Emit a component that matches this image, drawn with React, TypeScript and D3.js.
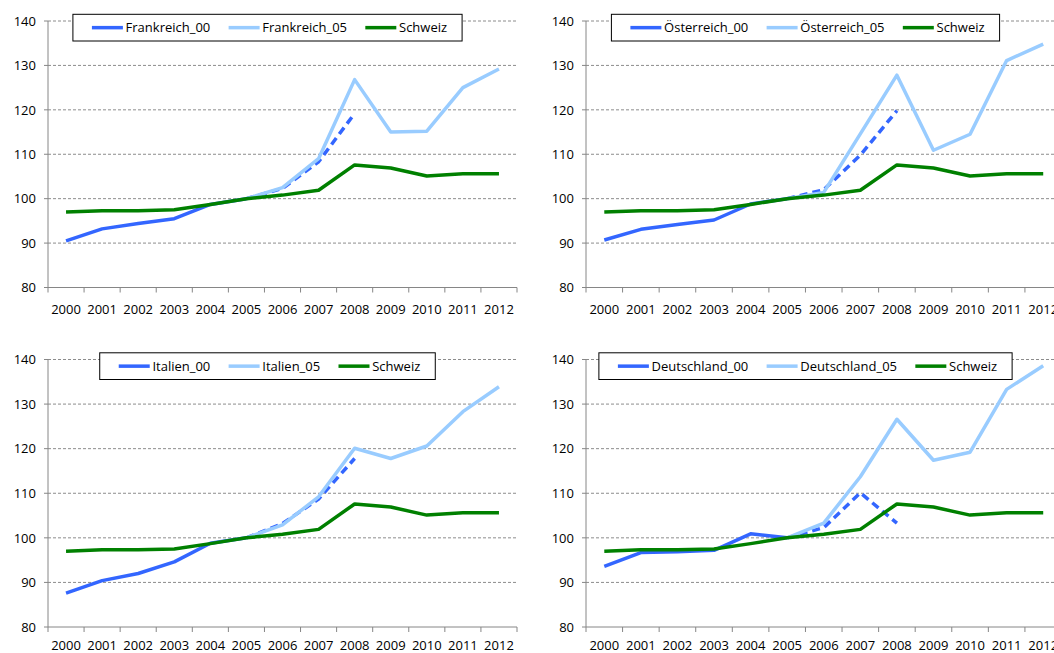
import React from 'react';
import * as d3 from 'd3';

const years = ['2000', '2001', '2002', '2003', '2004', '2005', '2006', '2007', '2008', '2009', '2010', '2011', '2012'];
const yTicks = [80, 90, 100, 110, 120, 130, 140];

const schweiz = [97.0, 97.3, 97.3, 97.5, 98.7, 100.0, 100.8, 101.9, 107.6, 106.9, 105.1, 105.6, 105.6];

const frankreich00 = [90.5, 93.2, 94.4, 95.5, 98.7, 100.0, 102.3, 108.3, 119.2];
const frankreich05 = [null, null, null, null, null, 100.0, 102.5, 109.0, 126.8, 115.0, 115.2, 125.0, 129.2];

const oesterreich00 = [90.7, 93.1, 94.2, 95.2, 98.8, 100.0, 102.0, 109.8, 119.8];
const oesterreich05 = [null, null, null, null, null, 100.0, 101.4, 114.6, 127.8, 110.9, 114.5, 131.1, 134.8];

const italien00 = [87.6, 90.4, 92.0, 94.6, 98.8, 100.0, 103.2, 108.7, 117.8];
const italien05 = [null, null, null, null, null, 100.0, 102.9, 109.2, 120.1, 117.8, 120.6, 128.3, 133.9];

const deutschland00 = [93.6, 96.7, 96.9, 97.2, 100.9, 100.0, 102.3, 110.1, 103.3];
const deutschland05 = [null, null, null, null, null, 100.0, 103.3, 113.7, 126.6, 117.4, 119.2, 133.3, 138.6];

// index from which the _00 series is a projection (dashed)
const projectedFrom = 5;

const panels = [
  { n00: 'Frankreich_00', n05: 'Frankreich_05', v00: frankreich00, v05: frankreich05, col: 0, row: 0 },
  { n00: 'Österreich_00', n05: 'Österreich_05', v00: oesterreich00, v05: oesterreich05, col: 1, row: 0 },
  { n00: 'Italien_00', n05: 'Italien_05', v00: italien00, v05: italien05, col: 0, row: 1 },
  { n00: 'Deutschland_00', n05: 'Deutschland_05', v00: deutschland00, v05: deutschland05, col: 1, row: 1 },
];

const C_DARK = '#3366FF';
const C_LIGHT = '#99CCFF';
const C_GREEN = '#008000';
const FONT = "'Open Sans', 'Noto Sans', sans-serif";
const FS = 13;
const TXT = '#000';

let ctx: CanvasRenderingContext2D | null = null;
function measure(t: string): number {
  if (typeof document === 'undefined') return t.length * 7;
  if (!ctx) ctx = document.createElement('canvas').getContext('2d');
  if (!ctx) return t.length * 7;
  ctx.font = `${FS}px 'Open Sans'`;
  return ctx.measureText(t).width;
}

type Series = (number | null)[];

function Panel({ p }: { p: typeof panels[number] }) {
  const x0 = p.col === 0 ? 48 : 586;
  const x1 = p.col === 0 ? 517 : 1061.5;
  const yTop = p.row === 0 ? 21 : 359.5;
  const yBot = p.row === 0 ? 287.5 : 627;
  const labelOff = p.row === 0 ? 26 : 22.5;

  const x = d3.scaleBand<string>().domain(years).range([x0, x1]);
  const bw = x.bandwidth();
  const cx = (i: number) => (x(years[i]) as number) + bw / 2;
  const y = d3.scaleLinear().domain([80, 140]).range([yBot, yTop]);

  const line = d3
    .line<number | null>()
    .defined((d) => d != null)
    .x((_, i) => cx(i))
    .y((d) => y(d as number));

  const v00solid: Series = p.v00.map((v, i) => (i <= projectedFrom ? v : null));
  const v00dash: Series = years.map((_, i) => (i >= projectedFrom && i < p.v00.length ? p.v00[i] : null));

  // legend layout
  const lineLen = 31;
  const textGap = 2.7;
  const colGap = 18.3;
  const padL = 19;
  const padR = 15;
  const names = [p.n00, p.n05, 'Schweiz'];
  const colors = [C_DARK, C_LIGHT, C_GREEN];
  const widths = names.map(measure);
  const colW = lineLen + textGap + Math.max(widths[0], widths[1]) + colGap;
  const boxW = padL + 2 * colW + lineLen + textGap + widths[2] + padR;
  const center = x0 + 219.5;
  const boxX = center - boxW / 2;
  const boxY = yTop - 6.7;
  const boxH = 26.7;
  const legY = boxY + boxH / 2;

  return (
    <g>
      {yTicks.filter((t) => t !== 80).map((t) => (
        <line key={t} x1={x0} x2={x1} y1={y(t)} y2={y(t)} stroke="#8c8c8c" strokeWidth={1} strokeDasharray="3,2" />
      ))}
      <line x1={x0} x2={x0} y1={yTop} y2={yBot} stroke="#868686" strokeWidth={1} />
      {yTicks.map((t) => (
        <g key={t}>
          <line x1={x0 - 4} x2={x0} y1={y(t)} y2={y(t)} stroke="#868686" />
          <text x={x0 - 12} y={y(t)} dy="0.36em" textAnchor="end" fontSize={FS} fontFamily={FONT} fill={TXT}>
            {t}
          </text>
        </g>
      ))}
      <line x1={x0} x2={x1} y1={yBot} y2={yBot} stroke="#868686" strokeWidth={1} />
      {years.map((yr, i) => (
        <g key={yr}>
          <line x1={x(yr) as number} x2={x(yr) as number} y1={yBot} y2={yBot + 5} stroke="#868686" />
          <text x={cx(i)} y={yBot + labelOff} textAnchor="middle" fontSize={FS} fontFamily={FONT} fill={TXT}>
            {yr}
          </text>
        </g>
      ))}
      <line x1={x1} x2={x1} y1={yBot} y2={yBot + 5} stroke="#868686" />

      <path d={line(v00solid) || ''} fill="none" stroke={C_DARK} strokeWidth={3.5} strokeLinejoin="round" />
      <path d={line(v00dash) || ''} fill="none" stroke={C_DARK} strokeWidth={3.5} strokeDasharray="8,5" strokeLinejoin="round" />
      <path d={line(p.v05) || ''} fill="none" stroke={C_LIGHT} strokeWidth={3.5} strokeLinejoin="round" />
      <path d={line(schweiz) || ''} fill="none" stroke={C_GREEN} strokeWidth={3.5} strokeLinejoin="round" />

      <rect x={boxX} y={boxY} width={boxW} height={boxH} fill="#fff" stroke="#000" strokeWidth={1} />
      {names.map((n, i) => {
        const lx = boxX + padL + i * colW;
        return (
          <g key={n}>
            <line x1={lx} x2={lx + lineLen} y1={legY} y2={legY} stroke={colors[i]} strokeWidth={3.5} />
            <text x={lx + lineLen + textGap} y={legY} dy="0.36em" fontSize={FS} fontFamily={FONT} fill={TXT}>
              {n}
            </text>
          </g>
        );
      })}
    </g>
  );
}

export default function App() {
  return (
    <svg width={1054} height={653} style={{ position: 'absolute', left: 0, top: 0, background: '#fff' }}>
      <rect x={0} y={0} width={1054} height={653} fill="#fff" />
      {panels.map((p) => (
        <Panel key={p.n00} p={p} />
      ))}
    </svg>
  );
}
